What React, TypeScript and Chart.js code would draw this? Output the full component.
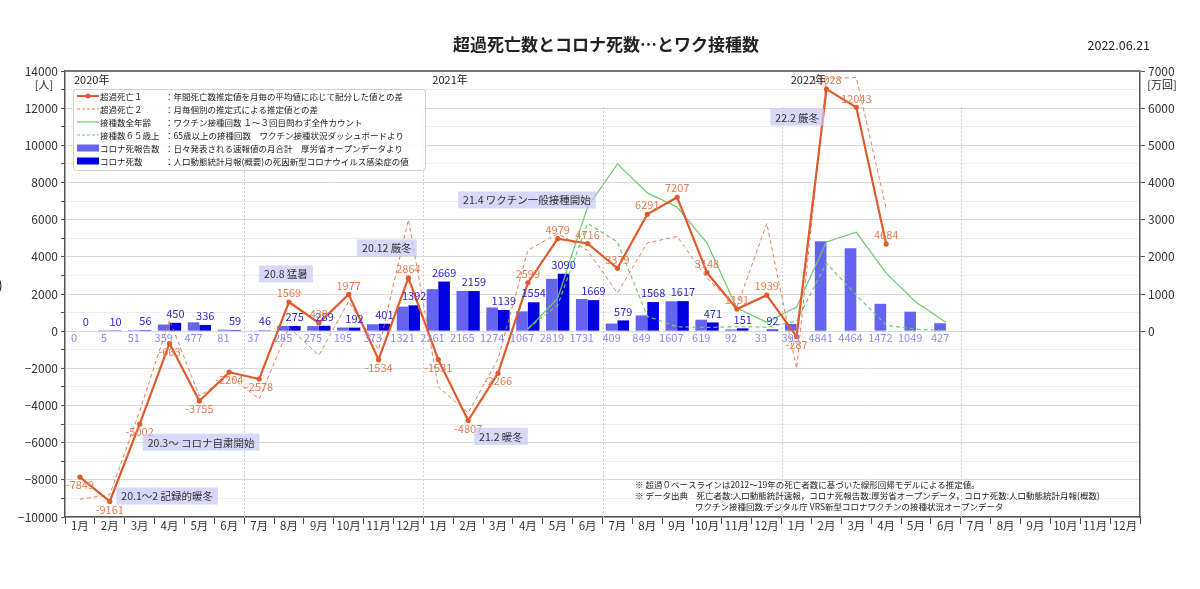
"use client"

import { useEffect, useRef } from "react"
import { Chart, registerables } from "chart.js"

Chart.register(...registerables)

const FONT = "'Noto Sans CJK JP', 'Noto Sans', sans-serif"

const monthNames = ["1月", "2月", "3月", "4月", "5月", "6月", "7月", "8月", "9月", "10月", "11月", "12月"]
const categories = [...monthNames, ...monthNames, ...monthNames]
const yearLabels = ["2020年", "2021年", "2022年"]

// 超過死亡１ [人]
const excessDeaths1 = [
  -7849, -9161, -5002, -663, -3755, -2204, -2578, 1569, 439, 1977, -1534, 2864,
  -1531, -4807, -2266, 2599, 4979, 4716, 3379, 6291, 7207, 3148, 1191, 1939,
  -287, 13028, 12043, 4684, null, null, null, null, null, null, null, null,
]

// 超過死亡２ [人] (no labels in the picture)
const excessDeaths2 = [
  -9050, -8800, -4300, 600, -3500, -2400, -3650, 200, -1300, 1600, -1000, 6000,
  -3000, -4400, -1500, 4350, 5250, 4350, 2050, 4750, 5100, 2850, 1300, 5800,
  -2000, 13600, 13650, 6600, null, null, null, null, null, null, null, null,
]

// コロナ死報告数 [人]
const reportedDeaths = [
  0, 5, 51, 359, 477, 81, 37, 285, 275, 195, 373, 1321,
  2261, 2165, 1274, 1067, 2819, 1731, 409, 849, 1607, 619, 92, 33,
  393, 4841, 4464, 1472, 1049, 427, null, null, null, null, null, null,
]

// コロナ死数 (人口動態統計) [人]
const vitalStatsDeaths = [
  0, 10, 56, 450, 336, 59, 46, 275, 289, 192, 401, 1392,
  2669, 2159, 1139, 1554, 3090, 1669, 579, 1568, 1617, 471, 151, 92,
  null, null, null, null, null, null, null, null, null, null, null, null,
]

// 接種数全年齢 [万回]
const vaccAll = [
  null, null, null, null, null, null, null, null, null, null, null, null,
  null, null, null, 50, 890, 3340, 4500, 3720, 3340, 2370, 620, 240,
  650, 2400, 2660, 1560, 780, 240, null, null, null, null, null, null,
]

// 接種数６５歳上 [万回]
const vacc65 = [
  null, null, null, null, null, null, null, null, null, null, null, null,
  null, null, null, 80, 700, 2900, 2400, 400, 120, 100, 120, 110,
  270, 1830, 970, 160, 50, 20, null, null, null, null, null, null,
]

const notes = [
  { text: "20.1～2 記録的暖冬", at: 2.92, value: -8870 },
  { text: "20.3～ コロナ自粛開始", at: 4.06, value: -5970 },
  { text: "20.8 猛暑", at: 6.9, value: 3080 },
  { text: "20.12 厳冬", at: 10.28, value: 4480 },
  { text: "21.4 ワクチン一般接種開始", at: 14.97, value: 7060 },
  { text: "21.2 暖冬", at: 14.1, value: -5660 },
  { text: "22.2 厳冬", at: 24.02, value: 11520 },
]

const legendRows = [
  { name: "超過死亡１", desc: "：年間死亡数推定値を月毎の平均値に応じて配分した値との差", kind: "marker", color: "#e05a2b" },
  { name: "超過死亡２", desc: "：月毎個別の推定式による推定値との差", kind: "dash", color: "#e8805a" },
  { name: "接種数全年齢", desc: "：ワクチン接種回数 １～３回目問わず全件カウント", kind: "line", color: "#6fcb6f" },
  { name: "接種数６５歳上", desc: "：65歳以上の接種回数　ワクチン接種状況ダッシュボードより", kind: "dash", color: "#6fcb6f" },
  { name: "コロナ死報告数", desc: "：日々発表される速報値の月合計　厚労省オープンデータより", kind: "box", color: "#6464f0" },
  { name: "コロナ死数", desc: "：人口動態統計月報(概要)の死因新型コロナウイルス感染症の値", kind: "box", color: "#0000e0" },
]

const footnotes = [
  { text: "※ 超過０ベースラインは2012～19年の死亡者数に基づいた線形回帰モデルによる推定値。", indent: 0 },
  { text: "※ データ出典　死亡者数:人口動態統計速報，コロナ死報告数:厚労省オープンデータ，コロナ死数:人口動態統計月報(概数)", indent: 0 },
  { text: "ワクチン接種回数:デジタル庁 VRS新型コロナワクチンの接種状況オープンデータ", indent: 60 },
]

const halfYearBreaks = [6, 12, 18, 24, 30]

const fmt = (v: number) => (v < 0 ? `\u2212${Math.abs(v)}` : String(v))

const overlayPlugin = {
  id: "overlay",
  beforeDatasetsDraw(chart: any) {
    const { ctx, chartArea: a, scales } = chart
    const x = scales.x
    const cw = x.getPixelForTick(1) - x.getPixelForTick(0)
    ctx.save()
    ctx.strokeStyle = "#cfcfcf"
    ctx.lineWidth = 1
    ctx.setLineDash([2, 2])
    for (const i of halfYearBreaks) {
      const px = Math.round(x.getPixelForTick(i) - cw / 2) + 0.5
      ctx.beginPath()
      ctx.moveTo(px, a.top + 36)
      ctx.lineTo(px, a.bottom)
      ctx.stroke()
    }
    ctx.restore()
  },
  afterDatasetsDraw(chart: any) {
    const { ctx, scales } = chart
    const zeroY = scales.y.getPixelForValue(0)
    ctx.save()
    ctx.textAlign = "center"
    ctx.textBaseline = "middle"
    ctx.font = `11px ${FONT}`

    // light bar labels below zero
    const mLight = chart.getDatasetMeta(4)
    ctx.fillStyle = "#8c8cf0"
    reportedDeaths.forEach((v, i) => {
      if (v == null) return
      ctx.fillText(String(v), mLight.data[i].x, zeroY + 7)
    })

    // dark bar labels above bars
    const mDark = chart.getDatasetMeta(5)
    ctx.fillStyle = "#2a2ac8"
    vitalStatsDeaths.forEach((v, i) => {
      if (v == null) return
      ctx.fillText(String(v), mDark.data[i].x, mDark.data[i].y - 9)
    })

    // excess death labels
    const m1 = chart.getDatasetMeta(0)
    ctx.fillStyle = "#e47d50"
    excessDeaths1.forEach((v, i) => {
      if (v == null) return
      const p = m1.data[i]
      ctx.fillText(String(v), p.x, v >= 0 ? p.y - 9 : p.y + 8)
    })

    // annotation boxes
    const x = scales.x
    const cw = x.getPixelForTick(1) - x.getPixelForTick(0)
    ctx.font = `10.5px ${FONT}`
    for (const n of notes) {
      const cx = x.getPixelForTick(0) + n.at * cw
      const cy = scales.y.getPixelForValue(n.value)
      const w = ctx.measureText(n.text).width + 10
      const h = 17
      ctx.fillStyle = "rgba(200,200,248,0.7)"
      ctx.fillRect(cx - w / 2, cy - h / 2, w, h)
      ctx.fillStyle = "#333"
      ctx.fillText(n.text, cx, cy + 0.5)
    }
    ctx.restore()
  },
  afterDraw(chart: any) {
    const { ctx, chartArea: a, scales } = chart
    const x = scales.x
    const cw = x.getPixelForTick(1) - x.getPixelForTick(0)
    ctx.save()

    // top frame line
    ctx.strokeStyle = "#777"
    ctx.lineWidth = 2
    ctx.beginPath()
    ctx.moveTo(a.left, a.top)
    ctx.lineTo(a.right, a.top)
    ctx.stroke()

    // year labels
    ctx.fillStyle = "#222"
    ctx.font = `11px ${FONT}`
    ctx.textAlign = "left"
    ctx.textBaseline = "middle"
    yearLabels.forEach((t, k) => {
      const bx = x.getPixelForTick(0) - cw / 2 + k * 12 * cw
      ctx.fillText(t, bx + 9, a.top + 9)
    })

    // legend
    const lx = a.left + 8
    const ly = a.top + 18
    ctx.fillStyle = "rgba(255,255,255,0.85)"
    ctx.strokeStyle = "#d0d0d0"
    ctx.lineWidth = 1
    ctx.beginPath()
    ctx.roundRect(lx + 0.5, ly + 0.5, 352, 81, 3)
    ctx.fill()
    ctx.stroke()
    ctx.font = `8.5px ${FONT}`
    legendRows.forEach((r, k) => {
      const ry = ly + 7 + k * 13
      const sx = lx + 4
      ctx.setLineDash(r.kind === "dash" ? [3, 2] : [])
      if (r.kind === "box") {
        ctx.fillStyle = r.color
        ctx.fillRect(sx, ry - 3.5, 22, 7)
      } else {
        ctx.strokeStyle = r.color
        ctx.lineWidth = r.kind === "marker" ? 2 : 1.2
        ctx.beginPath()
        ctx.moveTo(sx, ry)
        ctx.lineTo(sx + 22, ry)
        ctx.stroke()
        if (r.kind === "marker") {
          ctx.fillStyle = r.color
          ctx.beginPath()
          ctx.arc(sx + 11, ry, 2.5, 0, Math.PI * 2)
          ctx.fill()
        }
      }
      ctx.setLineDash([])
      ctx.fillStyle = "#222"
      ctx.fillText(r.name, lx + 27, ry + 0.5)
      const nameEnd = lx + 27 + ctx.measureText(r.name).width
      ctx.fillText(r.desc, Math.max(lx + 92, nameEnd), ry + 0.5)
    })

    // footnotes
    ctx.font = `8.5px ${FONT}`
    ctx.fillStyle = "#222"
    footnotes.forEach((f, k) => {
      ctx.fillText(f.text, 635 + f.indent, a.bottom - 32 + k * 11)
    })

    // title, date, units
    ctx.font = `bold 17px ${FONT}`
    ctx.textAlign = "center"
    ctx.fillText("超過死亡数とコロナ死数…とワク接種数", 606, 45)
    ctx.font = `12.5px ${FONT}`
    ctx.textAlign = "right"
    ctx.fillText("2022.06.21", 1150, 45)
    ctx.font = `11px ${FONT}`
    ctx.textAlign = "center"
    ctx.fillText("[人]", 44, a.top + 14)
    ctx.fillText("[万回]", a.right + 22, a.top + 14)
    ctx.font = `14px ${FONT}`
    ctx.textAlign = "left"
    ctx.fillText(")", -2, 285)
    ctx.restore()
  },
}

export default function App() {
  const canvasRef = useRef<HTMLCanvasElement>(null)

  useEffect(() => {
    if (!canvasRef.current) return

    const chart = new Chart(canvasRef.current, {
      type: "bar",
      data: {
        labels: categories,
        datasets: [
          {
            type: "line",
            label: "超過死亡１",
            data: excessDeaths1,
            borderColor: "#e05a2b",
            backgroundColor: "#e05a2b",
            borderWidth: 2.2,
            pointRadius: 2.6,
            pointBorderWidth: 0,
            yAxisID: "y",
            order: 0,
          },
          {
            type: "line",
            label: "超過死亡２",
            data: excessDeaths2,
            borderColor: "rgba(228,112,72,0.9)",
            borderWidth: 1,
            borderDash: [4, 3],
            pointRadius: 0,
            yAxisID: "y",
            order: 1,
          },
          {
            type: "line",
            label: "接種数全年齢",
            data: vaccAll,
            borderColor: "#6fcb6f",
            borderWidth: 1.2,
            pointRadius: 0,
            yAxisID: "y2",
            order: 2,
          },
          {
            type: "line",
            label: "接種数６５歳上",
            data: vacc65,
            borderColor: "#6fcb6f",
            borderWidth: 1.2,
            borderDash: [4, 3],
            pointRadius: 0,
            yAxisID: "y2",
            order: 3,
          },
          {
            type: "bar",
            label: "コロナ死報告数",
            data: reportedDeaths,
            backgroundColor: "#6464f0",
            categoryPercentage: 0.78,
            barPercentage: 1,
            yAxisID: "y",
            order: 10,
          },
          {
            type: "bar",
            label: "コロナ死数",
            data: vitalStatsDeaths,
            backgroundColor: "#0000e0",
            categoryPercentage: 0.78,
            barPercentage: 1,
            yAxisID: "y",
            order: 10,
          },
        ],
      },
      options: {
        responsive: true,
        maintainAspectRatio: false,
        animation: false,
        layout: { padding: { top: 71, left: 0, right: 0, bottom: 0 } },
        plugins: {
          legend: { display: false },
          tooltip: { enabled: false },
        },
        scales: {
          x: {
            offset: true,
            grid: { offset: true, drawOnChartArea: false, tickLength: 7, color: "#444" },
            border: { color: "#555", width: 1.5 },
            ticks: {
              autoSkip: false,
              maxRotation: 0,
              padding: -5,
              color: "#333",
              font: { family: FONT, size: 11.5 },
            },
            afterFit: (s: any) => {
              s.height = 72
            },
          },
          y: {
            position: "left",
            min: -10000,
            max: 14000,
            ticks: {
              stepSize: 1000,
              padding: 3,
              color: "#333",
              font: { family: FONT, size: 12 },
              callback: (v: any) => (Number(v) % 2000 === 0 ? fmt(Number(v)) : ""),
            },
            grid: {
              tickLength: 4,
              tickColor: "#555",
              color: (c: any) => (c.tick && c.tick.value % 2000 === 0 ? "#d9d9d9" : "#eeeeee"),
            },
            border: { color: "#555", width: 1.5 },
            afterFit: (s: any) => {
              s.width = 65
            },
          },
          y2: {
            position: "right",
            min: -5000,
            max: 7000,
            ticks: {
              stepSize: 1000,
              padding: 3,
              color: "#333",
              font: { family: FONT, size: 12 },
              callback: (v: any) => (Number(v) >= 0 ? String(v) : ""),
            },
            grid: {
              drawOnChartArea: false,
              tickLength: 5,
              tickColor: (c: any) => (c.tick && c.tick.value >= 0 ? "#555" : "transparent"),
            },
            border: { color: "#555", width: 1.5 },
            afterFit: (s: any) => {
              s.width = 60
            },
          },
        },
      },
      plugins: [overlayPlugin],
    } as any)

    return () => chart.destroy()
  }, [])

  return (
    <div style={{ position: "absolute", left: 0, top: 0, width: 1200, height: 589, background: "#fff" }}>
      <canvas ref={canvasRef} />
    </div>
  )
}
